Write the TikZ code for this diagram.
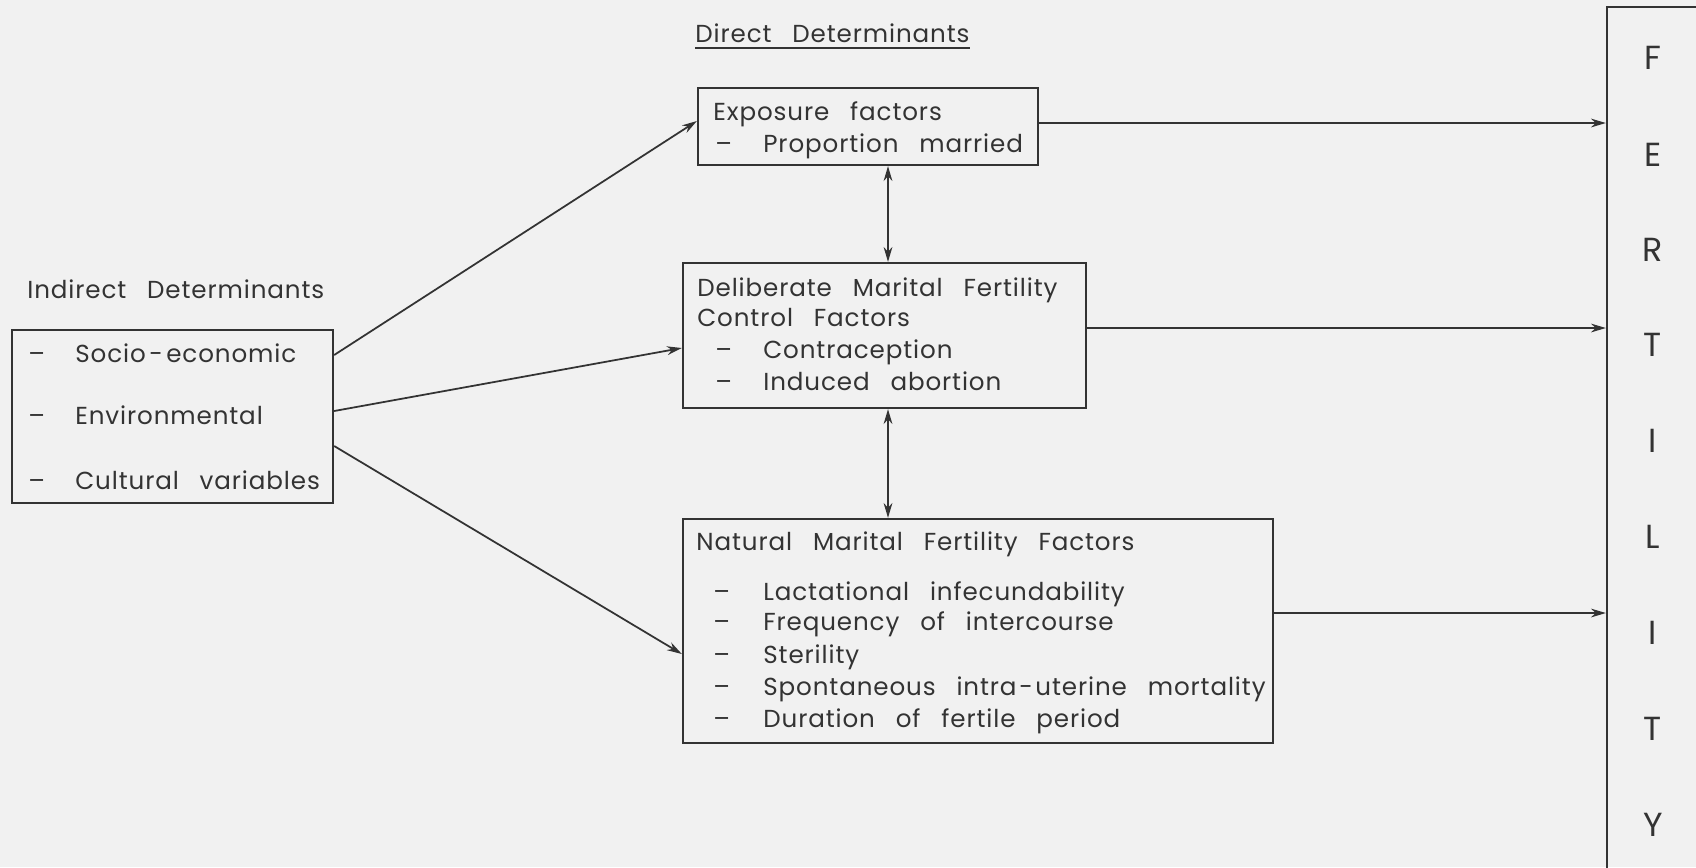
\documentclass[tikz,border=0pt]{standalone}
\usepackage{fontspec}
\setmainfont{Poppins}[LetterSpace=3.6,WordSpace=2.8]
\usetikzlibrary{arrows.meta,fit}
\definecolor{ink}{HTML}{333333}
\definecolor{paper}{HTML}{F1F1F1}
\begin{document}
\begin{tikzpicture}[x=0.02cm,y=-0.02cm,
  box/.style={draw=ink,line width=1.3pt,inner sep=0pt},
  txt/.style={inner sep=0pt,anchor=base west,text=ink,font=\fontsize{14}{16}\selectfont},
  letter/.style={inner sep=0pt,anchor=center,text=ink,font=\fontsize{19}{20}\selectfont},
  arr/.style={draw=ink,line width=1pt,-{Stealth[length=8.5pt,width=5pt]}},
  arrb/.style={draw=ink,line width=1pt,{Stealth[length=8.5pt,width=5pt]}-{Stealth[length=8.5pt,width=5pt]}},
]
\fill[paper] (0,0) rectangle (1696,867);
\useasboundingbox (0,0) rectangle (1696,867);
\clip (0,0) rectangle (1696,867);
% boxes
\node[box,fit={(12,330)(333,503)}] (ind) {};
\node[box,fit={(698,88)(1038,165)}] (exp) {};
\node[box,fit={(683,263)(1086,408)}] (del) {};
\node[box,fit={(683,519)(1273,743)}] (nat) {};
\node[box,fit={(1607,7)(1760,920)}] (fert) {};
% headings
\node[txt] (dd) at (695,42) {Direct Determinants};
\draw[ink,line width=0.8pt] ([yshift=-3.5pt]dd.base west) -- ([yshift=-3.5pt]dd.base east);
\node[txt] (id) at (27,298) {Indirect Determinants};
% indirect
\node[txt] (i1d) at (28,362) {–}; \node[txt] (i1) at (75,362) {Socio\kern2pt-\kern2pt economic};
\node[txt] (i2d) at (28,424) {–}; \node[txt] (i2) at (75,424) {Environmental};
\node[txt] (i3d) at (28,489) {–}; \node[txt] (i3) at (75,489) {Cultural variables};
% exposure
\node[txt] (e0) at (713,120) {Exposure factors};
\node[txt] (e1d) at (715,152) {–}; \node[txt] (e1) at (763,152) {Proportion married};
% deliberate
\node[txt] (d0) at (697,296) {Deliberate Marital Fertility};
\node[txt] (d1) at (697,326) {Control Factors};
\node[txt] (d2d) at (715,358) {–}; \node[txt] (d2) at (763,358) {Contraception};
\node[txt] (d3d) at (715,390) {–}; \node[txt] (d3) at (763,390) {Induced abortion};
% natural
\node[txt] (n0) at (696,550) {Natural Marital Fertility Factors};
\node[txt] (n1d) at (713,600) {–}; \node[txt] (n1) at (763,600) {Lactational infecundability};
\node[txt] (n2d) at (713,630) {–}; \node[txt] (n2) at (763,630) {Frequency of intercourse};
\node[txt] (n3d) at (713,663) {–}; \node[txt] (n3) at (763,663) {Sterility};
\node[txt] (n4d) at (713,695) {–}; \node[txt] (n4) at (763,695) {Spontaneous intra\kern1.5pt-\kern1.5pt uterine mortality};
\node[txt] (n5d) at (713,727) {–}; \node[txt] (n5) at (763,727) {Duration of fertile period};
% fertility letters
\node[letter] (f1) at (1653,58) {F};
\node[letter] (f2) at (1653,155) {E};
\node[letter] (f3) at (1653,250) {R};
\node[letter] (f4) at (1653,345) {T};
\node[letter] (f5) at (1653,441) {I};
\node[letter] (f6) at (1653,537) {L};
\node[letter] (f7) at (1653,633) {I};
\node[letter] (f8) at (1653,729) {T};
\node[letter] (f9) at (1653,825) {Y};
% arrows from indirect
\draw[arr] ([yshift=1.23cm]ind.east) -- ([yshift=0.11cm]exp.west);
\draw[arr] ([yshift=0.11cm]ind.east) -- ([yshift=-0.25cm]del.west);
\draw[arr] ([yshift=-0.59cm]ind.east) -- ([yshift=-0.46cm]nat.west);
% arrows to fertility
\draw[arr] ([yshift=0.07cm]exp.east) -- ([yshift=0.07cm]exp.east -| fert.west);
\draw[arr] ([yshift=0.15cm]del.east) -- ([yshift=0.15cm]del.east -| fert.west);
\draw[arr] ([yshift=0.36cm]nat.east) -- ([yshift=0.36cm]nat.east -| fert.west);
% vertical double arrows
\draw[arrb] ([xshift=0.4cm]exp.south) -- ([xshift=0.4cm]exp.south |- del.north);
\draw[arrb] ([xshift=0.07cm]del.south) -- ([xshift=0.07cm]del.south |- nat.north);
\end{tikzpicture}
\end{document}
